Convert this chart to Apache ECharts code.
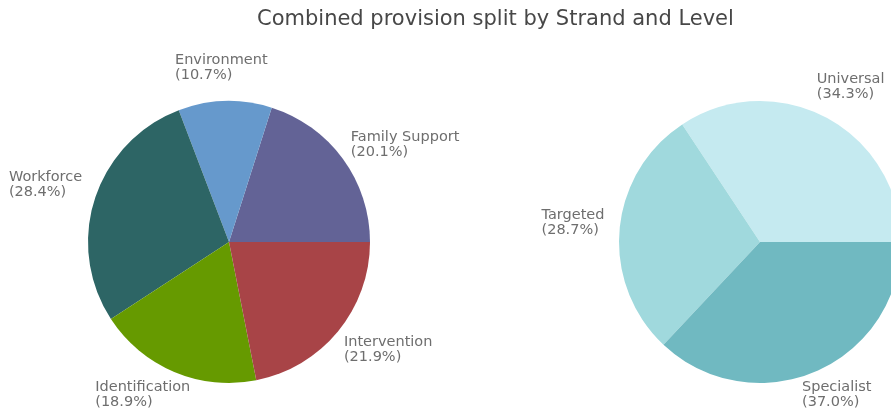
<!DOCTYPE html>
<html><head><meta charset="utf-8">
<script src="https://cdn.jsdelivr.net/npm/echarts@6/dist/echarts.min.js"></script>
<style>html,body{margin:0;padding:0;background:#fff}#c{width:891px;height:413px}</style>
</head><body><div id="c"></div>
<script>
const strandNames = ['Family Support', 'Environment', 'Workforce', 'Identification', 'Intervention'];
const strandValues = [20.1, 10.7, 28.4, 18.9, 21.9];
const levelNames = ['Universal', 'Targeted', 'Specialist'];
const levelValues = [34.3, 28.7, 37.0];

// styling
const strandColors = ['#636396', '#6699cc', '#2d6565', '#669a00', '#a84447'];
const levelColors = ['#c5eaf0', '#a0d9dd', '#70b9c1'];
// label nudges (style only) relative to the slice's outer mid-point
const labelNudge = [
  [[8, -29], [-50, -48], [-86, -29], [-79, 8], [6, 3]],
  [[-10, -46], [-78, -22], [-14, 8]]
];

const FONT = 'DejaVu Sans';
function mk(names, values, colors) {
  return names.map((n, i) => ({ name: n, value: values[i], itemStyle: { color: colors[i] } }));
}
const labelCfg = {
  show: true, position: 'outside', color: '#6e6e6e', fontFamily: FONT, fontSize: 14.5, lineHeight: 15,
  overflow: 'none', alignTo: 'none', distanceToLabelLine: 0,
  formatter: p => p.name + '\n(' + p.value.toFixed(1) + '%)'
};
const layoutFn = p => {
  const o = labelNudge[p.seriesIndex][p.dataIndex];
  return { align: 'left', verticalAlign: 'top', dx: o[0], dy: o[1] };
};
const chart = echarts.init(document.getElementById('c'), null, { renderer: 'canvas' });
chart.setOption({
  animation: false,
  title: { text: 'Combined provision split by Strand and Level', left: 252, top: 4,
    textStyle: { fontFamily: FONT, fontSize: 21, fontWeight: 'normal', color: '#474747' } },
  series: [
    { type: 'pie', center: [229, 242], radius: 141, startAngle: 0, clockwise: false, avoidLabelOverlap: false,
      data: mk(strandNames, strandValues, strandColors), label: labelCfg, labelLayout: layoutFn,
      labelLine: { show: false, length: 0, length2: 0 }, emphasis: { disabled: true } },
    { type: 'pie', center: [760, 242], radius: 141, startAngle: 0, clockwise: false, avoidLabelOverlap: false,
      data: mk(levelNames, levelValues, levelColors), label: labelCfg, labelLayout: layoutFn,
      labelLine: { show: false, length: 0, length2: 0 }, emphasis: { disabled: true } }
  ]
});
</script></body></html>
